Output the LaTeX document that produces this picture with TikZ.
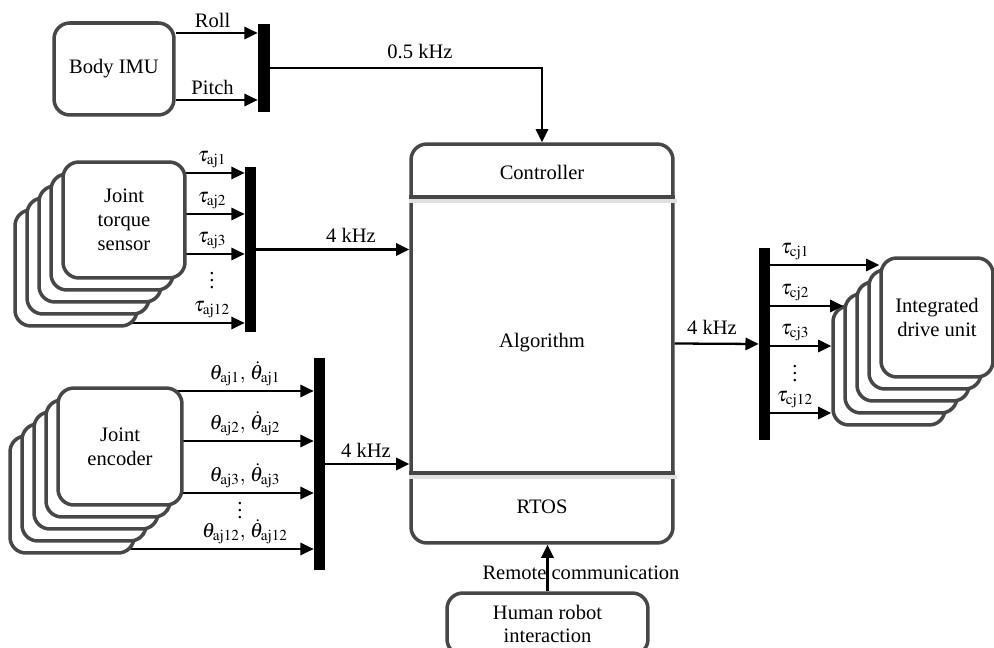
\documentclass[tikz,border=0pt]{standalone}
\usepackage{mathptmx}
\usepackage{fontspec}
\setmainfont{Liberation Serif}
\usetikzlibrary{arrows.meta,backgrounds}
\begin{document}
\begin{tikzpicture}[x=0.02cm,y=-0.02cm,
  font=\fontsize{11.7}{13.6}\selectfont,
  box/.style={draw=black!72,line width=2pt,rounded corners=9pt,fill=white,align=center,inner sep=0pt},
  bar/.style={fill=black,inner sep=0pt,minimum width=0.22cm},
  arr/.style={line width=1.3pt,-{Triangle[length=7.5pt,width=7pt]}},
  split/.style={line width=2pt,draw=black!72},
  shade/.style={line width=1.8pt,draw=black!12},
  lbl/.style={above=2.5pt,inner sep=0pt}]
\useasboundingbox (0,0) rectangle (994,648);
\node[box,minimum width=2.4cm,minimum height=1.84cm] (imu) at (114,69) {Body IMU};
\node[bar,minimum width=0.24cm,minimum height=1.76cm] (bimu) at (264,68) {};
\node[bar,minimum height=3.3cm] (btq) at (250.5,249.5) {};
\node[bar,minimum height=4.24cm] (benc) at (319.5,464) {};
\node[bar,minimum height=3.84cm] (bdrv) at (764.5,344) {};
\node[box,minimum width=5.24cm,minimum height=7.98cm] (mcu) at (542,343.5) {};
\coordinate (cut1) at (542,197);
\coordinate (cut2) at (542,473);
\draw[shade] (mcu.west |- 0,201) -- (677,201);
\draw[shade] (mcu.west |- 0,477) -- (677,477);
\draw[split] (mcu.west |- cut1) -- (mcu.east |- cut1);
\draw[split] (mcu.west |- cut2) -- (mcu.east |- cut2);
\node (ctrl) at (542,172) {Controller};
\node (algo) at (542,343) {Algorithm};
\node (rtos) at (542,507) {RTOS};
\foreach \k in {4,3,2,1}{
  \node[box,minimum width=2.44cm,minimum height=2.32cm] (tq\k) at (124-12*\k,220+12*\k) {};
  \node[box,minimum width=2.48cm,minimum height=2.34cm] (enc\k) at (120-12*\k,446.5+12*\k) {};
  \node[box,minimum width=2.24cm,minimum height=2.38cm] (drv\k) at (937-12*\k,317.5+12*\k) {};
}
\node[box,minimum width=2.44cm,minimum height=2.32cm] (tq0) at (124,220) {Joint\\torque\\sensor};
\node[box,minimum width=2.48cm,minimum height=2.34cm] (enc0) at (120,446.5) {Joint\\encoder};
\node[box,minimum width=2.24cm,minimum height=2.38cm] (drv0) at (937,317.5) {Integrated\\drive unit};
\node[box,minimum width=4.02cm,minimum height=1.24cm] (hri) at (547.5,624) {Human robot\\interaction};
\coordinate (roll) at (bimu.west |- 0,33);
\coordinate (pitch) at (bimu.west |- 0,100);
\draw[arr] (roll -| imu.east) -- (roll) node[pos=0.45,lbl] (lroll) {Roll};
\draw[arr] (pitch -| imu.east) -- (pitch) node[pos=0.45,lbl] (lpitch) {Pitch};
\draw[arr] (bimu.east) -| (mcu.north);
\node (f05) at (420,52) {0.5 kHz};
\foreach \y/\lab in {173/1,214/2,254/3,323/12}{
  \coordinate (t\lab) at (btq.west |- 0,\y);
  \node[lbl] (lt\lab) at (212,\y) {$\tau_{\mathrm{aj}\lab}$};
}
\node (tdots) at (212,275) {$\vdots$};
\foreach \y/\lab in {391/1,441/2,493/3,549/12}{
  \coordinate (e\lab) at (benc.west |- 0,\y);
  \node[lbl] (le\lab) at (245,\y) {$\theta_{\mathrm{aj}\lab},\,\dot{\theta}_{\mathrm{aj}\lab}$};
}
\node (edots) at (240,505) {$\vdots$};
\begin{scope}[on background layer]
\foreach \lab in {1,2,3,12}{
  \draw[arr] (tq4.center |- t\lab) -- (t\lab);
  \draw[arr] (enc4.center |- e\lab) -- (e\lab);
}
\end{scope}
\draw[arr] (btq.east) -- (btq.east -| mcu.west);
\node (ftq) at (351,235) {4 kHz};
\draw[arr] (benc.east) -- (benc.east -| mcu.west);
\node (fenc) at (366,450) {4 kHz};
\draw[arr] (mcu.east) -- (bdrv.west);
\node (fdrv) at (712,327) {4 kHz};
\foreach \y/\lab/\t in {265/1/0,306/2/3,346/3/4,413/12/4}{
  \coordinate (c\lab) at (bdrv.east |- 0,\y);
  \draw[arr] (c\lab) -- (c\lab -| drv\t.west);
  \node[lbl] (lc\lab) at (795,\y) {$\tau_{\mathrm{cj}\lab}$};
}
\node (cdots) at (795,368) {$\vdots$};
\draw[arr] (hri.north) -- (hri.north |- mcu.south);
\node (remote) at (581,573) {Remote communication};
\end{tikzpicture}
\end{document}
